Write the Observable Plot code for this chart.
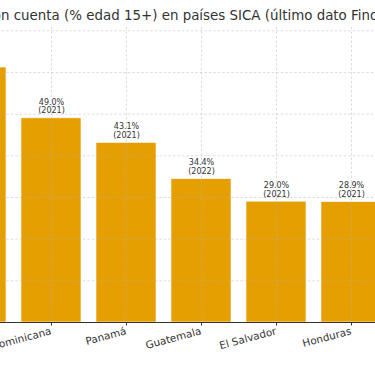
<!DOCTYPE html>
<html>
<head>
<meta charset="utf-8">
<script src="https://cdn.jsdelivr.net/npm/d3@7"></script>
<script src="https://cdn.jsdelivr.net/npm/@observablehq/plot@0.6"></script>
<style>
  html, body { margin: 0; padding: 0; background: #fff; overflow: hidden; }
  #wrap { position: relative; width: 375px; height: 366px; overflow: hidden; background: #fff; }
  #title { position: absolute; top: 8.4px; white-space: nowrap; font: 13.4px "DejaVu Sans"; line-height: 16px; color: #333; }
  #chart { position: absolute; left: -120px; top: 0; width: 520px; height: 366px; }
  #chart svg { max-width: none !important; width: 520px; height: 366px; }
</style>
</head>
<body>
<div id="wrap">
  <div id="title"></div>
  <div id="chart"></div>
</div>
<script>
const paises = ["Costa Rica", "República Dominicana", "Panamá", "Guatemala", "El Salvador", "Honduras"];
const valores = [61.2, 49.0, 43.1, 34.4, 29.0, 28.9];
const anios = [2021, 2021, 2021, 2022, 2021, 2021];
const yTicks = [10, 20, 30, 40, 50, 60, 70];
const tituloPrefijo = "Adultos co";
const tituloResto = "n cuenta (% edad 15+) en países SICA (último dato Findex)";

const data = paises.map((p, i) => ({pais: p, valor: valores[i], anio: anios[i]}));

// title: offset so the visible part starts where the reference crop starts
const titleEl = document.getElementById("title");
titleEl.textContent = tituloPrefijo + tituloResto;
const ctx = document.createElement("canvas").getContext("2d");
ctx.font = '13.4px "DejaVu Sans"';
titleEl.style.left = (1 - ctx.measureText(tituloPrefijo).width) + "px";

const gridStyle = {stroke: "#b0b0b0", strokeOpacity: 0.55, strokeDasharray: "2.5,2", strokeWidth: 0.8};

const chart = Plot.plot({
  width: 520,
  height: 366,
  marginTop: 27,
  marginBottom: 44,
  marginLeft: 58.8,
  marginRight: 11.2,
  style: {fontFamily: "DejaVu Sans", background: "transparent", maxWidth: "none"},
  x: {domain: paises, range: [58.8, 508.8], paddingInner: 0.2, paddingOuter: 0.1},
  y: {domain: [0, 70.8], axis: null},
  marks: [
    Plot.barY(data, {x: "pais", y: "valor", fill: "#E69F00", stroke: "white", strokeWidth: 0.6}),
    Plot.gridY(yTicks, gridStyle),
    Plot.gridX(gridStyle),
    Plot.ruleY([0], {stroke: "#333", strokeWidth: 1}),
    Plot.axisX({tickSize: 3.5, tickFormat: () => "", label: null, stroke: "#333"}),
    Plot.text(data, {
      x: "pais", y: "valor",
      text: d => `${d.valor.toFixed(1)}%\n(${d.anio})`,
      lineAnchor: "bottom", dy: -5, fontSize: 8, lineHeight: 1.1, fill: "#333"
    }),
    Plot.text(data, {
      x: "pais", frameAnchor: "bottom", text: "pais",
      rotate: -15, textAnchor: "end", lineAnchor: "top",
      dx: -1.5, dy: 4.5, fontSize: 10.4, fill: "#333"
    })
  ]
});
document.getElementById("chart").appendChild(chart);
</script>
</body>
</html>
